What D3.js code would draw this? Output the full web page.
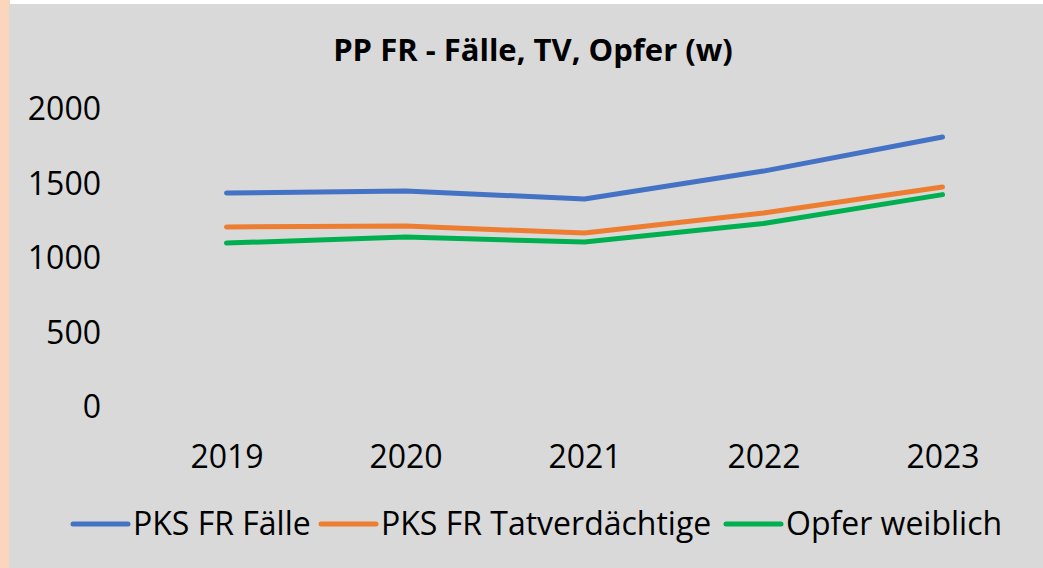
<!DOCTYPE html>
<html>
<head>
<meta charset="utf-8">
<script src="https://cdn.jsdelivr.net/npm/d3@7"></script>
<style>
  body { margin: 0; background: #fff; }
  svg { display: block; }
  text { font-family: "Open Sans", "Liberation Sans", sans-serif; fill: #000; }
</style>
</head>
<body>
<div id="chart"></div>
<script>
const years = ['2019', '2020', '2021', '2022', '2023'];
const faelle = [1443, 1456, 1403, 1590, 1819];
const tatverdaechtige = [1215, 1221, 1174, 1309, 1483];
const opferWeiblich = [1107, 1147, 1114, 1238, 1432];
const yTicks = [0, 500, 1000, 1500, 2000];

const seriesNames = ['PKS FR Fälle', 'PKS FR Tatverdächtige', 'Opfer weiblich'];
const seriesColors = ['#4472C4', '#ED7D31', '#00B050'];
const series = [faelle, tatverdaechtige, opferWeiblich].map((vals, i) => ({
  name: seriesNames[i], color: seriesColors[i],
  values: vals.map((v, j) => ({year: years[j], value: v}))
}));

const width = 1043;
const height = 568;
const margin = {top: 110, bottom: 160, left: 137, right: 11};

const svg = d3.select('#chart')
  .append('svg')
  .attr('width', width)
  .attr('height', height);

// background: peach strip on the left, grey chart area
svg.append('rect').attr('x', 0).attr('y', 0).attr('width', 10).attr('height', height).attr('fill', '#FBD5BC');
svg.append('rect').attr('x', 9).attr('y', 4).attr('width', width - 9).attr('height', height - 4).attr('fill', '#D9D9D9');

const x = d3.scalePoint()
  .domain(years)
  .range([margin.left, width - margin.right])
  .padding(0.5);

const y = d3.scaleLinear()
  .domain([0, 2000])
  .range([408, 110]);

svg.append('text')
  .attr('x', 533)
  .attr('y', 61)
  .attr('text-anchor', 'middle')
  .attr('font-size', 31)
  .attr('font-weight', 'bold')
  .text('PP FR - Fälle, TV, Opfer (w)');

const yAxis = svg.append('g')
  .attr('transform', `translate(101,0)`)
  .call(d3.axisLeft(y).tickValues(yTicks).tickFormat(d3.format('d')).tickSize(0).tickPadding(0));
yAxis.select('.domain').remove();
yAxis.selectAll('text').attr('font-size', 32).attr('font-family', null).attr('dy', '0.3em');

const xAxis = svg.append('g')
  .attr('transform', `translate(0,468)`)
  .call(d3.axisBottom(x).tickSize(0).tickPadding(0));
xAxis.select('.domain').remove();
xAxis.selectAll('text').attr('font-size', 32).attr('font-family', null).attr('dy', 0);

const line = d3.line()
  .x(d => x(d.year))
  .y(d => y(d.value));

svg.append('g')
  .selectAll('path')
  .data(series)
  .join('path')
  .attr('d', d => line(d.values))
  .attr('fill', 'none')
  .attr('stroke', d => d.color)
  .attr('stroke-width', 5)
  .attr('stroke-linecap', 'round')
  .attr('stroke-linejoin', 'round');

// legend
const legendX = [73, 321, 726];
const legend = svg.append('g')
  .selectAll('g')
  .data(series)
  .join('g')
  .attr('transform', (d, i) => `translate(${legendX[i]},524)`);

legend.append('line')
  .attr('x1', 0).attr('x2', 55)
  .attr('stroke', d => d.color)
  .attr('stroke-width', 5)
  .attr('stroke-linecap', 'round');

legend.append('text')
  .attr('x', 60)
  .attr('y', 11)
  .attr('font-size', 32)
  .text(d => d.name);
</script>
</body>
</html>
